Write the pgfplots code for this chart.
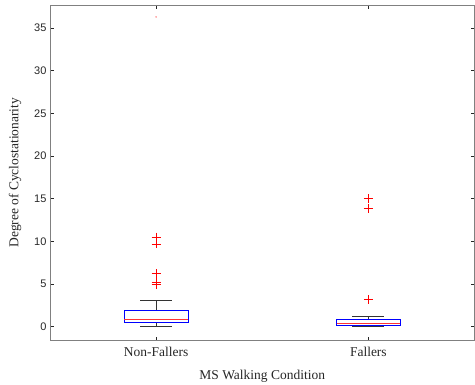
\documentclass[border=0pt]{standalone}
\usepackage{pgfplots}
\pgfplotsset{compat=1.18}
\usepgfplotslibrary{statistics}
\usepackage{fontspec}
\setmainfont{Liberation Serif}
\newfontfamily\arial{Liberation Sans}
\definecolor{axgray}{RGB}{128,128,128}
\definecolor{txtgray}{RGB}{38,38,38}
\begin{document}
\begin{tikzpicture}
\begin{axis}[
  scale only axis, width=425pt, height=336pt,
  xmin=0.5, xmax=2.5, ymin=-1.64, ymax=37.7,
  xtick={1,2}, xticklabels={Non-Fallers,Fallers},
  ytick={0,5,...,35},
  tick align=inside, tick pos=both, major tick length=4pt,
  axis line style={axgray, line width=0.8pt},
  tick style={txtgray, line width=0.6pt},
  /pgf/number format/assume math mode=true,
  yticklabel style={font=\arial\fontsize{11}{13}\selectfont, text=txtgray},
  xticklabel style={font=\fontsize{13.5}{16}\selectfont, text=txtgray, yshift=-3pt},
  xlabel={MS Walking Condition},
  ylabel={Degree of Cyclostationarity},
  label style={font=\fontsize{13.5}{16}\selectfont, text=txtgray},
  xlabel style={at={(axis description cs:0.5,-0.107)}, anchor=center},
  ylabel style={at={(axis description cs:-0.082,0.5)}, anchor=center},
  boxplot/draw direction=y,
  boxplot/every box/.style={draw=blue, line width=0.8pt},
  boxplot/every median/.style={draw=red!80, line width=0.8pt},
  boxplot/every whisker/.style={draw=black!80, line width=0.7pt},
]
\addplot[draw=blue, mark=+, mark size=4.5pt, mark options={red, line width=0.7pt},
  boxplot prepared={draw position=1, median=0.8, lower quartile=0.5, upper quartile=1.9,
    lower whisker=0.03, upper whisker=3.1, box extend=0.3, whisker extend=0.15}]
  coordinates {(0,10.5) (0,9.7) (0,6.2) (0,5.2) (0,4.9)};
\addplot[draw=blue, mark=+, mark size=4.5pt, mark options={red, line width=0.7pt},
  boxplot prepared={draw position=2, median=0.39, lower quartile=0.2, upper quartile=0.82,
    lower whisker=0.04, upper whisker=1.17, box extend=0.3, whisker extend=0.15}]
  coordinates {(0,15.0) (0,13.85) (0,3.16)};
\addplot[only marks, mark=*, mark size=0.5pt, red!50] coordinates {(1,36.3)};
\end{axis}
\pgfresetboundingbox
\path ([shift={(-50pt,-44pt)}]current axis.south west) rectangle ([shift={(0.5pt,5pt)}]current axis.north east);
\end{tikzpicture}
\end{document}
